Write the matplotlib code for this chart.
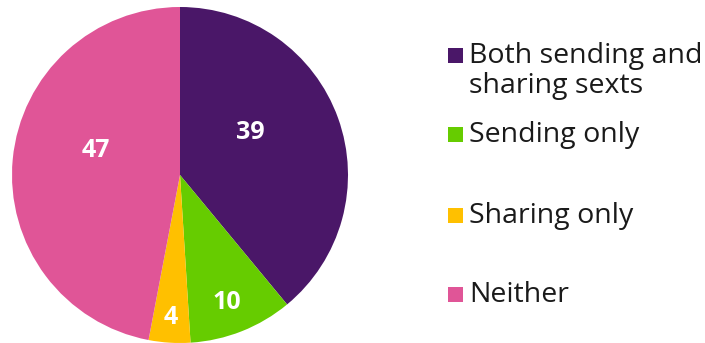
import matplotlib.pyplot as plt
import matplotlib.patches as mpatches
import numpy as np

labels = ['Both sending and\nsharing sexts', 'Sending only', 'Sharing only', 'Neither']
values = [39, 10, 4, 47]
colors = ['#4A1768', '#66CC00', '#FFC000', '#E05597']

plt.rcParams['font.family'] = ['Open Sans', 'DejaVu Sans']

W, H = 705, 343
fig = plt.figure(figsize=(W/100, H/100), dpi=100)
ax = fig.add_axes([12/W, 0, 336/W, 336/H])

wedges, _ = ax.pie(values, colors=colors, startangle=90, counterclock=False,
                   radius=1, wedgeprops=dict(linewidth=0))
ax.set_aspect('equal')
ax.set_xlim(-1, 1)
ax.set_ylim(-1, 1)

# value labels: radius and angle nudge per slice
label_r = [0.49, 0.81, 0.85, 0.52]
label_da = [11, -1.5, 0, -11]
for w, v, r, da in zip(wedges, values, label_r, label_da):
    ang = np.deg2rad((w.theta1 + w.theta2) / 2 + da)
    ax.text(r*np.cos(ang), r*np.sin(ang), str(v), color='white',
            fontsize=18, fontweight='bold', ha='center', va='center')

# legend drawn by hand, pixel baselines from the top
baselines = [63, 142, 223, 302]
for lab, c, y in zip(labels, colors, baselines):
    fig.patches.append(mpatches.Rectangle((448/W, 1 - y/H), 15/W, 15/H,
                                          transform=fig.transFigure, facecolor=c,
                                          edgecolor='none'))
    for i, line in enumerate(lab.split('\n')):
        fig.text(469/W, 1 - (y + 30*i)/H, line, fontsize=20.5, color='#1a1a1a',
                 ha='left', va='baseline')

fig.savefig('out.png', dpi=100)
